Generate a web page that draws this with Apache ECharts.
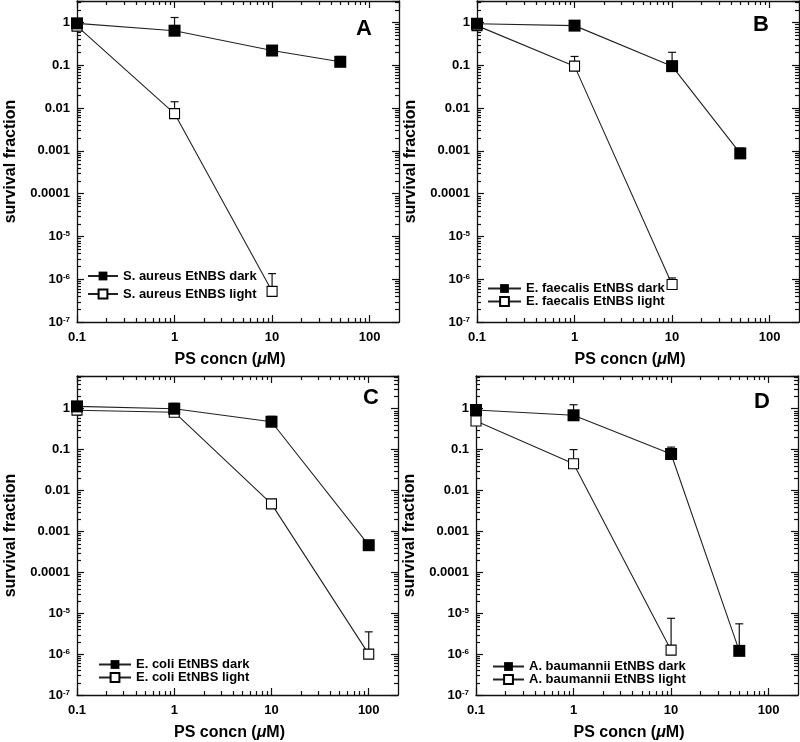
<!DOCTYPE html>
<html><head><meta charset="utf-8">
<script src="https://cdn.jsdelivr.net/npm/echarts@6/dist/echarts.min.js"></script>
<style>html,body{margin:0;padding:0;background:#fff}#c{width:800px;height:742px}</style>
</head><body><div id="c"></div>
<script>
// ---- Data ----
const concDarkA = [0.1, 1, 10, 50];
const darkA = [0.95, 0.64, 0.22, 0.12];
const darkAErr = [null, 1.3, 0.25, 0.16];
const concLightA = [0.1, 1, 10];
const lightA = [0.82, 0.0074, 5.2e-7];
const lightAErr = [null, 0.014, 1.35e-6];

const concDarkB = [0.1, 1, 10, 50];
const darkB = [0.93, 0.84, 0.095, 8.7e-4];
const darkBErr = [null, 0.92, 0.2, 0.00115];
const concLightB = [0.1, 1, 10];
const lightB = [0.84, 0.095, 7.5e-7];
const lightBErr = [null, 0.16, 1.07e-6];

const concDarkC = [0.1, 1, 10, 100];
const darkC = [1.14, 1.0, 0.48, 4.6e-4];
const darkCErr = [null, 1.35, 0.65, null];
const concLightC = [0.1, 1, 10, 100];
const lightC = [0.92, 0.82, 0.0047, 1.0e-6];
const lightCErr = [null, null, 0.0055, 3.5e-6];

const concDarkD = [0.1, 1, 10, 50];
const darkD = [0.93, 0.69, 0.078, 1.2e-6];
const darkDErr = [null, 1.25, 0.115, 5.5e-6];
const concLightD = [0.1, 1, 10];
const lightD = [0.5, 0.045, 1.25e-6];
const lightDErr = [null, 0.1, 7.5e-6];

const namesA = ['S. aureus EtNBS dark', 'S. aureus EtNBS light'];
const namesB = ['E. faecalis EtNBS dark', 'E. faecalis EtNBS light'];
const namesC = ['E. coli EtNBS dark', 'E. coli EtNBS light'];
const namesD = ['A. baumannii EtNBS dark', 'A. baumannii EtNBS light'];
const panelLetters = ['A', 'B', 'C', 'D'];

const xTickLabels = {'0.1': '0.1', '1': '1', '10': '10', '100': '100'};
const yTickLabels = {'0': '1', '-1': '0.1', '-2': '0.01', '-3': '0.001', '-4': '0.0001',
  '-5': '10{s|-5}', '-6': '10{s|-6}', '-7': '10{s|-7}'};
const xMin = 0.1, xMax = 200, yMin = 1e-7;
const yMaxTop = [3.16, 3.16, 6.3, 6.3];

// minor tick values (axis structure)
const xMinor = [];
for (let e = -1; e <= 2; e++) for (let m = 2; m <= 9; m++) { const v = m * Math.pow(10, e); if (v < xMax) xMinor.push(+v.toPrecision(3)); }
const yMinor = [];
for (let e = -7; e <= 0; e++) for (let m = 2; m <= 9; m++) { const v = m * Math.pow(10, e); if (v < 6.3) yMinor.push(+v.toPrecision(3)); }

// ---- Layout ----
const FONT = 'Liberation Sans, Arial, Helvetica, sans-serif';
const grids = [
  {left: 77, top: 1, width: 322, height: 321},
  {left: 477, top: 1, width: 322, height: 321},
  {left: 77, top: 376, width: 321, height: 322},
  {left: 476, top: 376, width: 322, height: 321}
];
const legendPos = [
  {left: 87, top: 269, itemGap: 4, lh: 14, w: 30},
  {left: 487, top: 282, itemGap: 0, lh: 12, w: 33},
  {left: 98, top: 658, itemGap: 0, lh: 12, w: 32},
  {left: 492, top: 660, itemGap: 0, lh: 12, w: 31}
];
const letterPos = [[364, 29], [761, 25], [371, 398], [762, 402]];

const panels = [
  {cd: concDarkA, d: darkA, de: darkAErr, cl: concLightA, l: lightA, le: lightAErr, names: namesA},
  {cd: concDarkB, d: darkB, de: darkBErr, cl: concLightB, l: lightB, le: lightBErr, names: namesB},
  {cd: concDarkC, d: darkC, de: darkCErr, cl: concLightC, l: lightC, le: lightCErr, names: namesC},
  {cd: concDarkD, d: darkD, de: darkDErr, cl: concLightD, l: lightD, le: lightDErr, names: namesD}
];

function xFmt(v) { const k = String(+v.toPrecision(3)); return xTickLabels[k] || ''; }
function yFmt(v) {
  const lg = Math.log10(v), e = Math.round(lg);
  if (Math.abs(lg - e) > 0.01) return '';
  return yTickLabels[String(e)] || '';
}
const labelStyle = {fontFamily: FONT, fontWeight: 'bold', fontSize: 13, color: '#000'};
const tickStyle = {stroke: '#111', lineWidth: 1.2};

function errRender(params, api) {
  const x = api.value(0), y = api.value(1), t = api.value(2);
  const p0 = api.coord([x, y]), p1 = api.coord([x, t]);
  const st = {stroke: '#111', lineWidth: 1.2};
  return {type: 'group', children: [
    {type: 'line', shape: {x1: p0[0], y1: p0[1], x2: p1[0], y2: p1[1]}, style: st},
    {type: 'line', shape: {x1: p1[0] - 4, y1: p1[1], x2: p1[0] + 4, y2: p1[1]}, style: st}
  ]};
}
function xMinorRender(params, api) {
  const cs = params.coordSys;
  const px = Math.round(api.coord([api.value(0), api.value(1)])[0]) + 0.5;
  const b = cs.y + cs.height;
  return {type: 'group', children: [
    {type: 'line', shape: {x1: px, y1: b, x2: px, y2: b - 4}, style: tickStyle},
    {type: 'line', shape: {x1: px, y1: cs.y, x2: px, y2: cs.y + 4}, style: tickStyle}
  ]};
}
function yMinorRender(params, api) {
  const cs = params.coordSys;
  const py = Math.round(api.coord([api.value(0), api.value(1)])[1]) + 0.5;
  const r = cs.x + cs.width;
  return {type: 'group', children: [
    {type: 'line', shape: {x1: cs.x, y1: py, x2: cs.x + 4, y2: py}, style: tickStyle},
    {type: 'line', shape: {x1: r, y1: py, x2: r - 4, y2: py}, style: tickStyle}
  ]};
}

const xAxes = [], yAxes = [], series = [], legends = [], graphics = [];
const axisLine = {show: true, onZero: false, lineStyle: {color: '#111', width: 1.3}};
const axisTick = {show: true, inside: true, length: 7, lineStyle: {color: '#111', width: 1.2}};

panels.forEach((p, i) => {
  const yMax = yMaxTop[i];
  xAxes.push({type: 'log', logBase: 10, gridIndex: i, position: 'bottom', min: xMin, max: xMax,
    axisLine, axisTick, splitLine: {show: false}, minorTick: {show: false},
    axisLabel: Object.assign({formatter: xFmt, margin: 9, showMaxLabel: false}, labelStyle),
    name: '{n|PS concn (}{i|μ}{n|M)}', nameLocation: 'middle', nameGap: 30,
    nameTextStyle: {padding: [0, 16, 0, 0], rich: {
      n: {fontFamily: FONT, fontWeight: 'bold', fontSize: 16, color: '#000'},
      i: {fontFamily: FONT, fontWeight: 'bold', fontStyle: 'italic', fontSize: 16, color: '#000'}}}
  });
  xAxes.push({type: 'log', logBase: 10, gridIndex: i, position: 'top', min: xMin, max: xMax,
    axisLine, axisTick, splitLine: {show: false}, axisLabel: {show: false}});
  yAxes.push({type: 'log', logBase: 10, gridIndex: i, position: 'left', min: yMin, max: yMax,
    axisLine, axisTick, splitLine: {show: false},
    axisLabel: Object.assign({formatter: yFmt, margin: 7, rich: {
      s: {fontFamily: FONT, fontWeight: 'bold', fontSize: 8, color: '#000', verticalAlign: 'top', padding: [0, 0, 5, 0]}}}, labelStyle),
    name: 'survival fraction', nameLocation: 'middle', nameGap: 58,
    nameTextStyle: {fontFamily: FONT, fontWeight: 'bold', fontSize: 16, color: '#000'}
  });
  yAxes.push({type: 'log', logBase: 10, gridIndex: i, position: 'right', min: yMin, max: yMax,
    axisLine, axisTick, splitLine: {show: false}, axisLabel: {show: false}});

  const xi = 2 * i, yi = 2 * i;
  series.push({type: 'custom', xAxisIndex: xi, yAxisIndex: yi, renderItem: xMinorRender, silent: true, z: 1,
    data: xMinor.map(v => [v, 1])});
  series.push({type: 'custom', xAxisIndex: xi, yAxisIndex: yi, renderItem: yMinorRender, silent: true, z: 1,
    data: yMinor.filter(v => v < yMax).map(v => [1, v])});
  const errD = p.cd.map((x, k) => [x, p.d[k], p.de[k]]).filter(r => r[2] != null);
  const errL = p.cl.map((x, k) => [x, p.l[k], p.le[k]]).filter(r => r[2] != null);
  series.push({type: 'custom', xAxisIndex: xi, yAxisIndex: yi, renderItem: errRender, silent: true, z: 1, data: errD});
  series.push({type: 'custom', xAxisIndex: xi, yAxisIndex: yi, renderItem: errRender, silent: true, z: 1, data: errL});
  series.push({type: 'line', name: p.names[1], xAxisIndex: xi, yAxisIndex: yi, z: 2,
    data: p.cl.map((x, k) => [x, p.l[k]]), symbol: 'rect', symbolSize: 10,
    lineStyle: {color: '#222', width: 1.1}, itemStyle: {color: '#fff', borderColor: '#000', borderWidth: 1.1},
    emphasis: {disabled: true}, animation: false});
  series.push({type: 'line', name: p.names[0], xAxisIndex: xi, yAxisIndex: yi, z: 3,
    data: p.cd.map((x, k) => [x, p.d[k]]), symbol: 'rect', symbolSize: 12,
    lineStyle: {color: '#222', width: 1.1}, itemStyle: {color: '#000', borderColor: '#000', borderWidth: 0},
    emphasis: {disabled: true}, animation: false});

  const lp = legendPos[i];
  legends.push({data: [p.names[0], p.names[1]], orient: 'vertical', left: lp.left, top: lp.top,
    itemGap: lp.itemGap, itemWidth: lp.w, itemHeight: 11, padding: 0, selectedMode: false,
    textStyle: {fontFamily: FONT, fontWeight: 'bold', fontSize: 13, color: '#000', lineHeight: lp.lh}});

  graphics.push({type: 'text', x: letterPos[i][0], y: letterPos[i][1],
    style: {text: panelLetters[i], font: 'bold 22px ' + FONT, fill: '#000', textAlign: 'center', textVerticalAlign: 'middle'}});
});

const chart = echarts.init(document.getElementById('c'), null, {renderer: 'canvas'});
chart.setOption({
  backgroundColor: '#fff',
  animation: false,
  grid: grids,
  xAxis: xAxes,
  yAxis: yAxes,
  legend: legends,
  graphic: graphics,
  series: series
});
</script></body></html>
